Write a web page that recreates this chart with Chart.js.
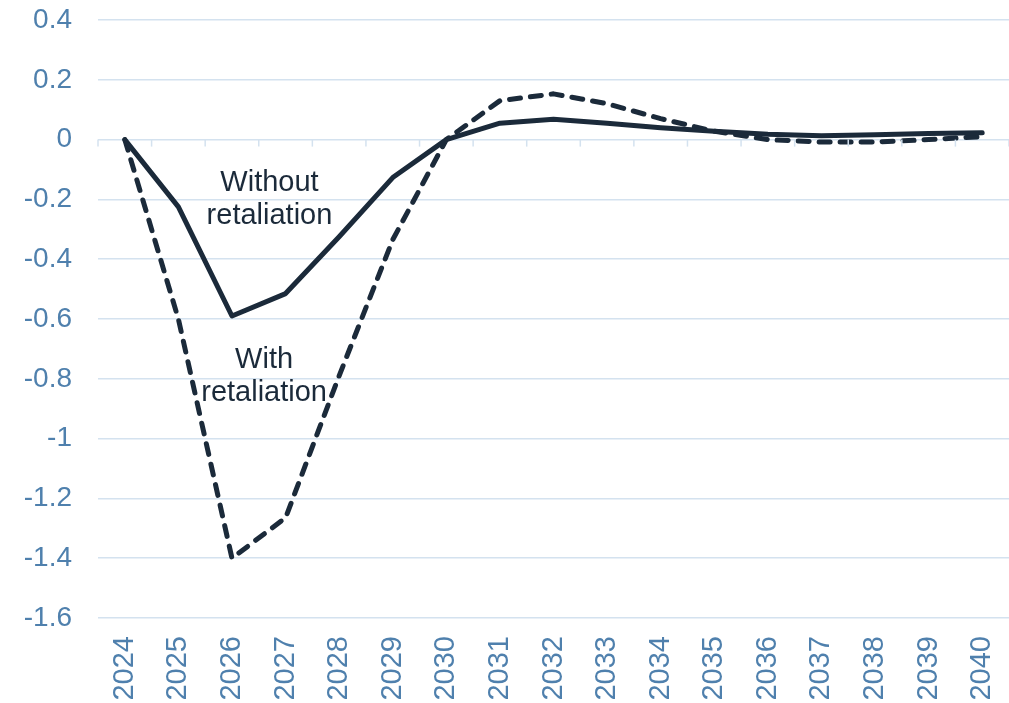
<!DOCTYPE html>
<html>
<head>
<meta charset="utf-8">
<script src="https://cdn.jsdelivr.net/npm/chart.js@4"></script>
<style>
    html, body { margin: 0; padding: 0; background: #ffffff; }
    #wrap { width: 1009px; height: 703px; }
</style>
</head>
<body>
<div id="wrap"><canvas id="tariffChart"></canvas></div>
<script>
"use strict";

const years = ["2024", "2025", "2026", "2027", "2028", "2029", "2030", "2031", "2032",
               "2033", "2034", "2035", "2036", "2037", "2038", "2039", "2040"];

const withoutRetaliation = [0, -0.225, -0.59, -0.515, -0.325, -0.127, 0, 0.055, 0.068,
                            0.055, 0.04, 0.028, 0.018, 0.013, 0.016, 0.02, 0.023];

const withRetaliation = [0, -0.6, -1.4, -1.265, -0.79, -0.335, 0, 0.13, 0.153,
                         0.12, 0.07, 0.028, 0.0, -0.008, -0.008, 0.0, 0.01];

const yTicks = [0.4, 0.2, 0, -0.2, -0.4, -0.6, -0.8, -1, -1.2, -1.4, -1.6];

const lineColor = "#1b2a3a";
const axisColor = "#4f80ad";
const gridColor = "#d4e2ef";
const fontFamily = "'Liberation Sans', Arial, sans-serif";

// labels next to the curves, placed in data units
const seriesLabels = [
    { text: ["Without", "retaliation"], x: 2.7, y: -0.2 },
    { text: ["With", "retaliation"], x: 2.6, y: -0.793 }
];

const zeroTicks = {
    id: "zeroTicks",
    afterDraw(chart)
    {
        const ctx = chart.ctx;
        const xs  = chart.scales.x;
        const ys  = chart.scales.y;
        const y0  = ys.getPixelForValue(0);

        ctx.save();
        ctx.strokeStyle = gridColor;
        ctx.lineWidth   = 1.5;
        for (let i = 0; i <= years.length; i++)
        {
            const x = xs.getPixelForValue(i - 0.5);
            ctx.beginPath();
            ctx.moveTo(x, y0);
            ctx.lineTo(x, y0 + 7);
            ctx.stroke();
        }
        ctx.restore();
    }
};

const curveLabels = {
    id: "curveLabels",
    afterDatasetsDraw(chart)
    {
        const ctx = chart.ctx;
        const xs  = chart.scales.x;
        const ys  = chart.scales.y;

        ctx.save();
        ctx.fillStyle    = lineColor;
        ctx.font         = "29px " + fontFamily;
        ctx.textAlign    = "center";
        ctx.textBaseline = "middle";
        seriesLabels.forEach(lbl =>
        {
            const cx = xs.getPixelForValue(lbl.x);
            const cy = ys.getPixelForValue(lbl.y);
            lbl.text.forEach((line, i) =>
            {
                ctx.fillText(line, cx, cy + (i - (lbl.text.length - 1) / 2) * 33);
            });
        });
        ctx.restore();
    }
};

new Chart(document.getElementById("tariffChart").getContext("2d"), {
    type:    "line",
    data:    {
        labels:   years,
        datasets: [
            {
                label:          "Without retaliation",
                data:           withoutRetaliation,
                borderColor:    lineColor,
                borderWidth:    5,
                borderCapStyle: "round",
                borderJoinStyle: "round",
                pointRadius:    0,
                tension:        0
            },
            {
                label:          "With retaliation",
                data:           withRetaliation,
                borderColor:    lineColor,
                borderWidth:    5,
                borderDash:     [11, 10],
                borderCapStyle: "round",
                borderJoinStyle: "round",
                pointRadius:    0,
                tension:        0
            }
        ]
    },
    options: {
        responsive:          true,
        maintainAspectRatio: false,
        animation:           false,
        layout:  {
            padding: { top: 20, right: -3, left: 0, bottom: 0 }
        },
        scales:  {
            x: {
                offset: true,
                grid:   { display: false },
                border: { display: false },
                ticks:  {
                    color:       axisColor,
                    font:        { family: fontFamily, size: 29 },
                    minRotation: 90,
                    maxRotation: 90,
                    padding:     10
                },
                afterFit: scale =>
                {
                    scale.height       = 85;
                    scale.paddingLeft  = 0;
                    scale.paddingRight = 0;
                }
            },
            y: {
                min:    -1.6,
                max:    0.4,
                afterBuildTicks: scale =>
                {
                    scale.ticks = yTicks.map(v => ({ value: v }));
                },
                grid:   {
                    color:     gridColor,
                    lineWidth: 1.5,
                    drawTicks: false
                },
                border: { display: false },
                ticks:  {
                    color:    axisColor,
                    font:     { family: fontFamily, size: 28 },
                    padding:  26,
                    callback: value => "" + Math.round(value * 10) / 10
                },
                afterFit: scale =>
                {
                    scale.width         = 98;
                    scale.paddingTop    = 0;
                    scale.paddingBottom = 0;
                }
            }
        },
        plugins: {
            legend:  { display: false },
            tooltip: { enabled: false }
        }
    },
    plugins: [zeroTicks, curveLabels]
});
</script>
</body>
</html>
